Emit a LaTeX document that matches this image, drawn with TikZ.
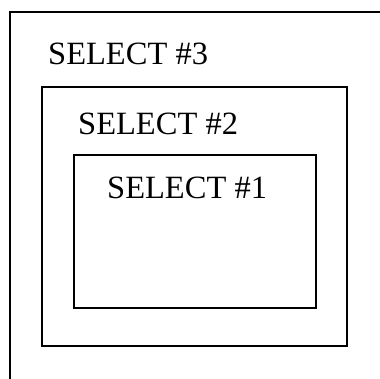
\documentclass[tikz,border=0pt]{standalone}
\usepackage{fontspec}
\setmainfont{Liberation Serif}
\usetikzlibrary{positioning}

\begin{document}
\begin{tikzpicture}[
    x=1pt, y=-1pt,
    % Styles
    level/.style={draw=black, line width=2pt},
    title/.style={font=\fontsize{32.5}{36}\selectfont, anchor=base west, inner sep=0pt}
  ]

    % --- Page frame ---
    \useasboundingbox (0,0) rectangle (380,379);
    \clip (0,0) rectangle (380,379);

    % --- Nested query boxes ---
    \draw[level] (10,400) -- (10,12) -- (400,12);
    \draw[level] (42,87) rectangle (347,346);
    \draw[level] (74,155) rectangle (316,308);

    % --- Labels ---
    \node (sel3) [title] at (48,65) {SELECT \#3};
    \node (sel2) [title] at (78,135) {SELECT \#2};
    \node (sel1) [title] at (107,199) {SELECT \#1};

  \end{tikzpicture}
\end{document}
